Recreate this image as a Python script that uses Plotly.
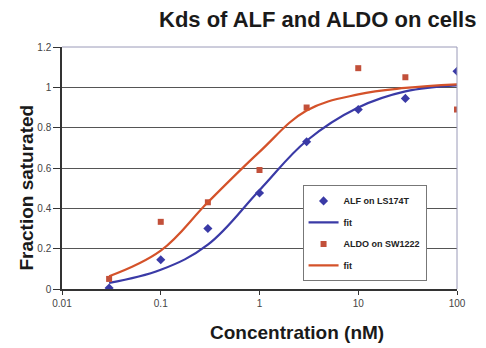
import plotly.graph_objects as go

# Concentrations (nM)
conc = [0.03, 0.1, 0.3, 1, 3, 10, 30, 100]

# Measured fraction saturated
alf_ls174t = [0.005, 0.145, 0.30, 0.476, 0.73, 0.89, 0.945, 1.08]
aldo_sw1222 = [0.05, 0.333, 0.43, 0.59, 0.90, 1.095, 1.05, 0.89]

# Fitted binding curves at the same concentrations
alf_fit = [0.03, 0.095, 0.22, 0.49, 0.735, 0.90, 0.98, 1.01]
aldo_fit = [0.063, 0.19, 0.43, 0.68, 0.885, 0.965, 0.997, 1.015]

x_ticks = [0.01, 0.1, 1, 10, 100]
x_tick_text = ["0.01", "0.1", "1", "10", "100"]
y_ticks = [0, 0.2, 0.4, 0.6, 0.8, 1, 1.2]
y_tick_text = ["0", "0.2", "0.4", "0.6", "0.8", "1", "1.2"]

BLUE = "#3a3aa6"
RED = "#c2503a"
RED_LINE = "#d4522a"

fig = go.Figure()
fig.add_trace(go.Scatter(
    x=conc, y=alf_ls174t, mode="markers", name="<b>ALF on LS174T</b>", legendgroup="a",
    marker=dict(symbol="diamond", size=7, color=BLUE),
))
fig.add_trace(go.Scatter(
    x=conc, y=alf_fit, mode="lines", name="<b>fit</b>", legendgroup="b",
    line=dict(color=BLUE, width=2.2, shape="spline", smoothing=1.1),
))
fig.add_trace(go.Scatter(
    x=conc, y=aldo_sw1222, mode="markers", name="<b>ALDO on SW1222</b>", legendgroup="c",
    marker=dict(symbol="square", size=6, color=RED),
))
fig.add_trace(go.Scatter(
    x=conc, y=aldo_fit, mode="lines", name="<b>fit</b>", legendgroup="d",
    line=dict(color=RED_LINE, width=2.2, shape="spline", smoothing=1.1),
))

TITLE_FONT = dict(family="Liberation Sans, Arial, sans-serif", color="#1a1a1a")

fig.update_layout(
    width=486, height=348,
    margin=dict(l=62, r=29, t=47, b=59),
    paper_bgcolor="white", plot_bgcolor="white",
    font=dict(family="Liberation Sans, Arial, sans-serif", color="#333333"),
    showlegend=True,
    legend=dict(
        x=0.609, y=0.428, xanchor="left", yanchor="top",
        bgcolor="white", bordercolor="#777777", borderwidth=1,
        font=dict(size=9, color="#222222"),
        tracegroupgap=2.5, itemwidth=30,
    ),
    xaxis=dict(
        type="log", range=[-2, 2],
        tickvals=x_ticks, ticktext=x_tick_text,
        tickfont=dict(size=10, color="#444444"),
        showgrid=False, zeroline=False,
        showline=True, linecolor="#333333", linewidth=1.5,
        ticks="outside", ticklen=4, tickcolor="#333333",
    ),
    yaxis=dict(
        range=[0, 1.2],
        tickvals=y_ticks, ticktext=y_tick_text,
        tickfont=dict(size=10, color="#444444"),
        showgrid=True, gridcolor="#555555", gridwidth=1,
        zeroline=False,
        showline=True, linecolor="#333333", linewidth=1.5,
        ticks="outside", ticklen=7, tickcolor="#333333",
    ),
    annotations=[
        dict(text="<b>Kds of ALF and ALDO on cells</b>", xref="paper", yref="paper",
             x=0.646, y=1.112, xanchor="center", yanchor="middle", showarrow=False,
             font=dict(size=22, **TITLE_FONT)),
        dict(text="<b>Concentration (nM)</b>", xref="paper", yref="paper",
             x=0.595, y=-0.178, xanchor="center", yanchor="middle", showarrow=False,
             font=dict(size=19, **TITLE_FONT)),
        dict(text="<b>Fraction saturated</b>", xref="paper", yref="paper",
             x=-0.09, y=0.421, xanchor="center", yanchor="middle", showarrow=False,
             textangle=-90, font=dict(size=19, **TITLE_FONT)),
    ],
    shapes=[
        dict(type="line", xref="paper", yref="paper", x0=1, x1=1, y0=0, y1=1,
             line=dict(color="#9a9ab8", width=1)),
        dict(type="line", xref="paper", yref="paper", x0=0, x1=1, y0=1, y1=1,
             line=dict(color="#9a9ab8", width=1)),
    ],
)

fig.write_html("out.html")
